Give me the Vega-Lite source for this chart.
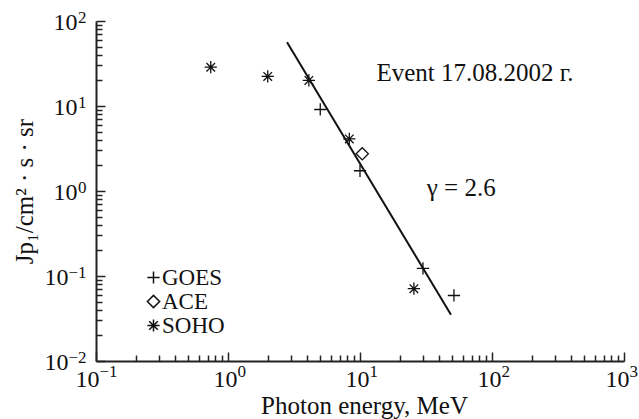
{
  "$schema": "https://vega.github.io/schema/vega-lite/v6.json",
  "width": 528,
  "height": 340,
  "autosize": "none",
  "padding": {"left": 96, "top": 21, "right": 15, "bottom": 58},
  "background": "white",
  "config": {
    "view": {"stroke": null},
    "font": "Times New Roman",
    "text": {"font": "Times New Roman"},
    "style": {
      "guide-label": {"font": "Times New Roman"},
      "guide-title": {"font": "Times New Roman"}
    },
    "legend": {"labelFont": "Times New Roman"},
    "axis": {
      "labelFont": "Times New Roman",
      "titleFont": "Times New Roman",
      "labelFontSize": 24,
      "titleFontSize": 25,
      "titleFontWeight": "normal",
      "labelColor": "#111",
      "titleColor": "#111",
      "domainColor": "#222",
      "domainWidth": 2,
      "tickColor": "#222",
      "tickWidth": 1.5,
      "grid": false,
      "labelFlush": false,
      "labelOverlap": false,
      "labelBound": false
    }
  },
  "datasets": {
    "points": [
      {"E": 0.74, "J": 28.6, "src": "SOHO"},
      {"E": 2.0, "J": 22.3, "src": "SOHO"},
      {"E": 4.1, "J": 20.0, "src": "SOHO"},
      {"E": 8.3, "J": 4.1, "src": "SOHO"},
      {"E": 25.6, "J": 0.071, "src": "SOHO"},
      {"E": 5.0, "J": 9.1, "src": "GOES"},
      {"E": 10.0, "J": 1.73, "src": "GOES"},
      {"E": 30.0, "J": 0.123, "src": "GOES"},
      {"E": 51.5, "J": 0.059, "src": "GOES"},
      {"E": 10.4, "J": 2.74, "src": "ACE"}
    ],
    "fit": [
      {"E": 2.8, "J": 56.4},
      {"E": 48.9, "J": 0.035}
    ],
    "notes": [
      {"E": 74.3, "J": 19.5, "text": "Event 17.08.2002 г."},
      {"E": 58.5, "J": 0.873, "text": "γ = 2.6"}
    ]
  },
  "resolve": {"axis": {"x": "independent", "y": "independent"}},
  "layer": [
    {
      "data": {"name": "points"},
      "mark": {"type": "point", "filled": false, "color": "#111", "strokeWidth": 1.3, "opacity": 1, "size": 150},
      "encoding": {
        "x": {
          "field": "E", "type": "quantitative",
          "scale": {"type": "log", "domain": [0.1, 1000], "nice": false},
          "axis": {
            "orient": "bottom",
            "values": [0.1, 1, 10, 100, 1000],
            "labelExpr": "'10'",
            "labelAlign": "right",
            "labelBaseline": "alphabetic",
            "labelOffset": {"condition": [{"test": "datum.value < 0.5", "value": 3}, {"test": "datum.value > 500", "value": 5}], "value": 9},
            "tickSize": -9,
            "labelPadding": 34,
            "title": "Photon energy, MeV",
            "titleFontSize": 25,
            "titleBaseline": "alphabetic",
            "titleY": 52,
            "titleX": 268
          }
        },
        "y": {
          "field": "J", "type": "quantitative",
          "scale": {"type": "log", "domain": [0.01, 100], "nice": false},
          "axis": {
            "orient": "left",
            "values": [0.01, 0.1, 1, 10, 100],
            "labelExpr": "'10'",
            "labelAlign": "right",
            "labelBaseline": "alphabetic",
            "labelOffset": 8,
            "tickSize": -9,
            "labelPadding": {"condition": {"test": "datum.value < 0.5", "value": 37}, "value": 28},
            "title": "Jp₁/cm² · s · sr",
            "titleBaseline": "alphabetic",
            "titleX": -64
          }
        },
        "shape": {
          "field": "src", "type": "nominal",
          "scale": {
            "domain": ["GOES", "ACE", "SOHO"],
            "range": ["M-1,0H1M0,-1V1", "diamond", "M-1,0H1M0,-1V1M-0.7,-0.7L0.7,0.7M-0.7,0.7L0.7,-0.7"]
          },
          "legend": {
            "orient": "none",
            "legendX": 46,
            "legendY": 245,
            "title": null,
            "labelFont": "Times New Roman",
            "labelFontSize": 23,
            "labelColor": "#111",
            "symbolSize": 150,
            "symbolStrokeWidth": 1.5,
            "symbolStrokeColor": "#111",
            "symbolFillColor": "transparent",
            "labelOffset": -3,
            "rowPadding": -2
          }
        }
      }
    },
    {
      "data": {"name": "fit"},
      "mark": {"type": "line", "color": "#111", "strokeWidth": 2},
      "encoding": {
        "x": {
          "field": "E", "type": "quantitative",
          "axis": {
            "orient": "bottom",
            "values": [0.2, 0.3, 0.4, 0.5, 0.6, 0.7, 0.8, 0.9, 2, 3, 4, 5, 6, 7, 8, 9, 20, 30, 40, 50, 60, 70, 80, 90, 200, 300, 400, 500, 600, 700, 800, 900],
            "labels": false,
            "domain": false,
            "tickSize": -6,
            "title": null
          }
        },
        "y": {
          "field": "J", "type": "quantitative",
          "axis": {
            "orient": "left",
            "values": [0.02, 0.03, 0.04, 0.05, 0.06, 0.07, 0.08, 0.09, 0.2, 0.3, 0.4, 0.5, 0.6, 0.7, 0.8, 0.9, 2, 3, 4, 5, 6, 7, 8, 9, 20, 30, 40, 50, 60, 70, 80, 90],
            "labels": false,
            "domain": false,
            "tickSize": -6,
            "title": null
          }
        }
      }
    },
    {
      "data": {"name": "notes"},
      "mark": {"type": "text", "font": "Times New Roman", "fontSize": 25, "color": "#111", "align": "center", "baseline": "alphabetic"},
      "encoding": {
        "x": {
          "field": "E", "type": "quantitative",
          "axis": {
            "orient": "bottom",
            "values": [0.1, 1, 10, 100, 1000],
            "labelExpr": "datum.value < 0.5 ? '−1' : datum.value < 5 ? '0' : datum.value < 50 ? '1' : datum.value < 500 ? '2' : '3'",
            "labelFontSize": 17,
            "labelAlign": "left",
            "labelBaseline": "alphabetic",
            "labelOffset": {"condition": [{"test": "datum.value < 0.5", "value": 3}, {"test": "datum.value > 500", "value": 5}], "value": 9},
            "ticks": false,
            "tickSize": 0,
            "domain": false,
            "labelPadding": 15,
            "title": null
          }
        },
        "y": {
          "field": "J", "type": "quantitative",
          "axis": {
            "orient": "left",
            "values": [0.01, 0.1, 1, 10, 100],
            "labelExpr": "datum.value < 0.05 ? '−2' : datum.value < 0.5 ? '−1' : datum.value < 5 ? '0' : datum.value < 50 ? '1' : '2'",
            "labelFontSize": 17,
            "labelAlign": "right",
            "labelBaseline": "alphabetic",
            "labelOffset": 1,
            "ticks": false,
            "tickSize": 0,
            "domain": false,
            "labelPadding": 10,
            "title": null
          }
        },
        "text": {"field": "text"}
      }
    }
  ]
}
